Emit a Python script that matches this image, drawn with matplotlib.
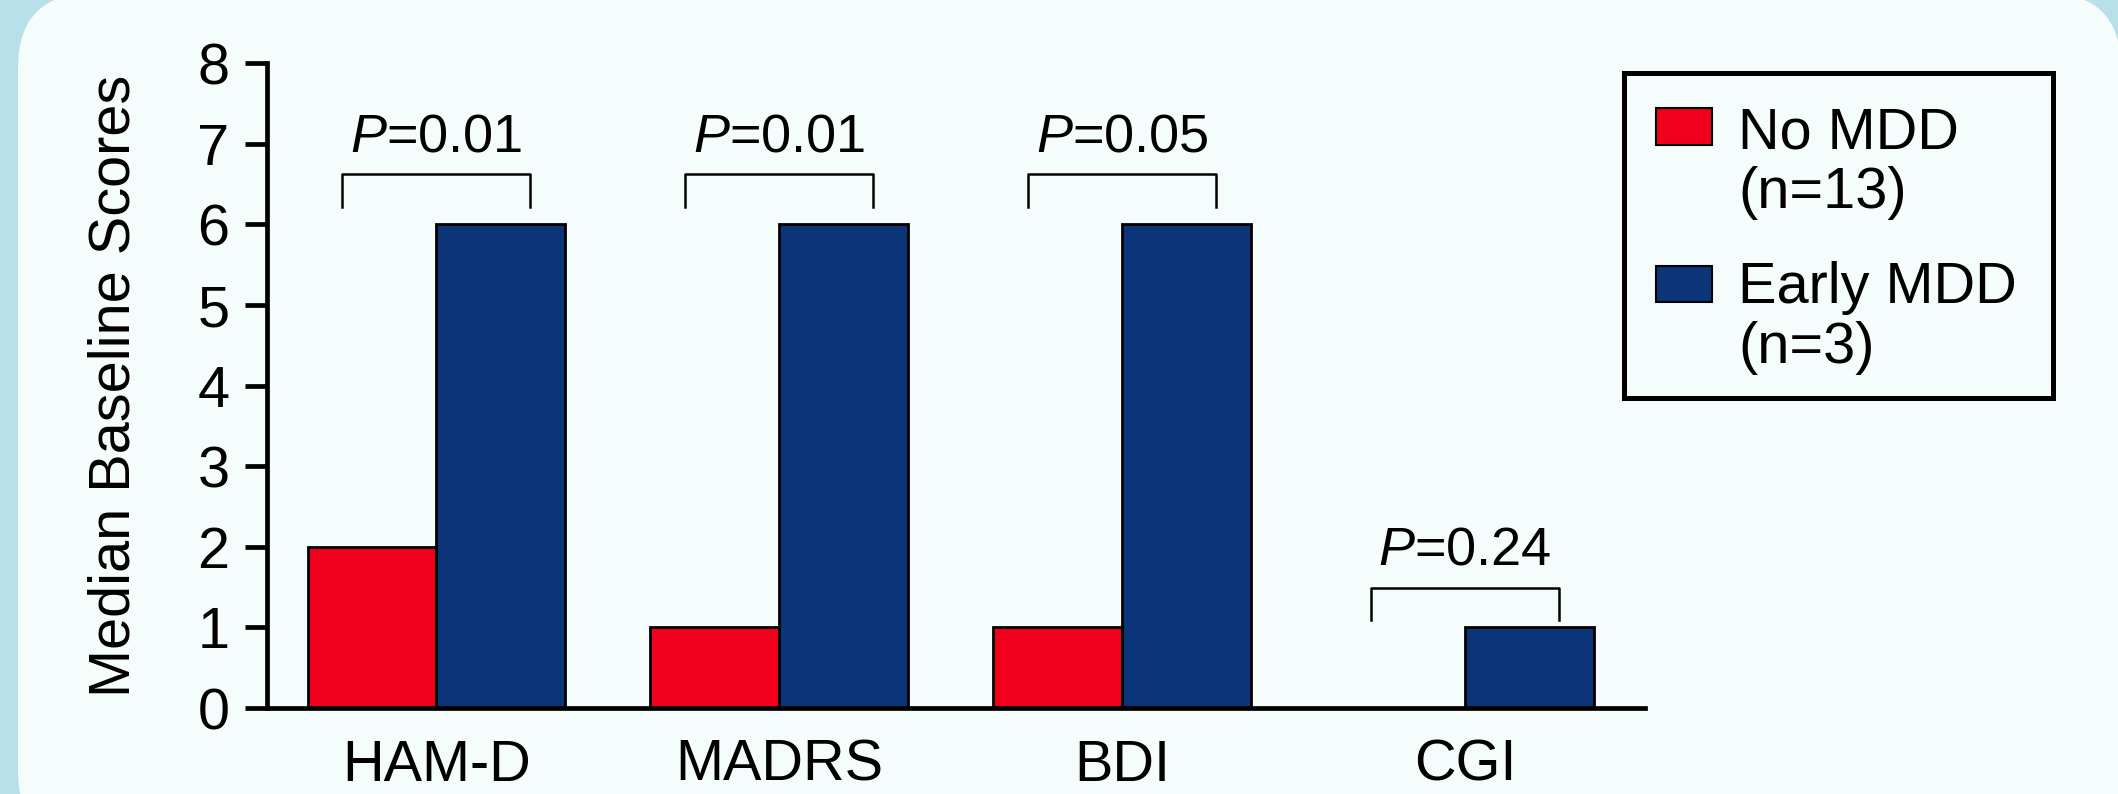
import matplotlib.pyplot as plt
import numpy as np
from matplotlib.patches import FancyBboxPatch, Rectangle
from matplotlib.transforms import IdentityTransform

scales = ['HAM-D', 'MADRS', 'BDI', 'CGI']
no_mdd = [2, 1, 1, 0]
early_mdd = [6, 6, 6, 1]
p_values = ['0.01', '0.01', '0.05', '0.24']
bracket_top = [6.62, 6.62, 6.62, 1.49]
series = ['No MDD\n(n=13)', 'Early MDD\n(n=3)']

red = '#f0001a'
blue = '#0b3578'
panel = '#f5fcfc'
outer = '#b8e0e9'

plt.rcParams['font.family'] = ['Liberation Sans', 'DejaVu Sans']
plt.rcParams['mathtext.fontset'] = 'custom'
plt.rcParams['mathtext.rm'] = 'Liberation Sans'
plt.rcParams['mathtext.it'] = 'Liberation Sans:italic'

fig = plt.figure(figsize=(21.18, 7.94), dpi=100, facecolor=outer)
# rounded light panel behind everything
bg = FancyBboxPatch((18, -51), 2103, 852, boxstyle='round,pad=0,rounding_size=75',
                    transform=IdentityTransform(), facecolor=panel, edgecolor='none', zorder=-10)
fig.patches.append(bg)

ax = fig.add_axes([0.1261, 0.1083, 0.6506, 0.812])
ax.set_facecolor('none')

x = np.arange(len(scales))
w = 0.375
ax.bar(x - w/2, no_mdd, w, color=red, edgecolor='black', linewidth=2)
ax.bar(x + w/2, early_mdd, w, color=blue, edgecolor='black', linewidth=2)

# significance brackets
for i, (top, p) in enumerate(zip(bracket_top, p_values)):
    ax.plot([i - 0.274, i - 0.274, i + 0.274, i + 0.274],
            [top - 0.40, top, top, top - 0.40], color='black', lw=1.8)
    ax.text(i, top + 0.29, '$P$=' + p, ha='center', va='baseline', fontsize=39)

ax.set_xlim(-0.493, 3.525)
ax.set_ylim(0, 8)
ax.set_yticks(range(0, 9))
ax.set_xticks(x)
ax.set_xticklabels(scales)
for s in ['top', 'right']:
    ax.spines[s].set_visible(False)
for s in ['left', 'bottom']:
    ax.spines[s].set_linewidth(3.4)
ax.tick_params(axis='y', length=16, width=3.4, labelsize=41.5, pad=11)
ax.tick_params(axis='x', length=0, labelsize=41.5, pad=22)
ax.set_ylabel('Median Baseline Scores', fontsize=41.5)
ax.yaxis.set_label_coords(-0.091, 0.5)

# legend box
lax = fig.add_axes([0.7668, 0.4987, 0.2025, 0.4093])
lax.set_facecolor('none')
lax.set_xlim(0, 1)
lax.set_ylim(0, 1)
lax.set_xticks([])
lax.set_yticks([])
for s in lax.spines.values():
    s.set_linewidth(3.6)
# text y is the baseline of the last line
for y0, ytxt, col, lab in [(0.779, 0.585, red, series[0]), (0.294, 0.108, blue, series[1])]:
    lax.add_patch(Rectangle((0.0746, y0), 0.13, 0.112, facecolor=col, edgecolor='black', lw=1.5))
    lax.text(0.266, ytxt, lab, fontsize=41.5, va='baseline', ha='left', linespacing=1.13)

fig.savefig('out.png', dpi=100, facecolor=fig.get_facecolor())
